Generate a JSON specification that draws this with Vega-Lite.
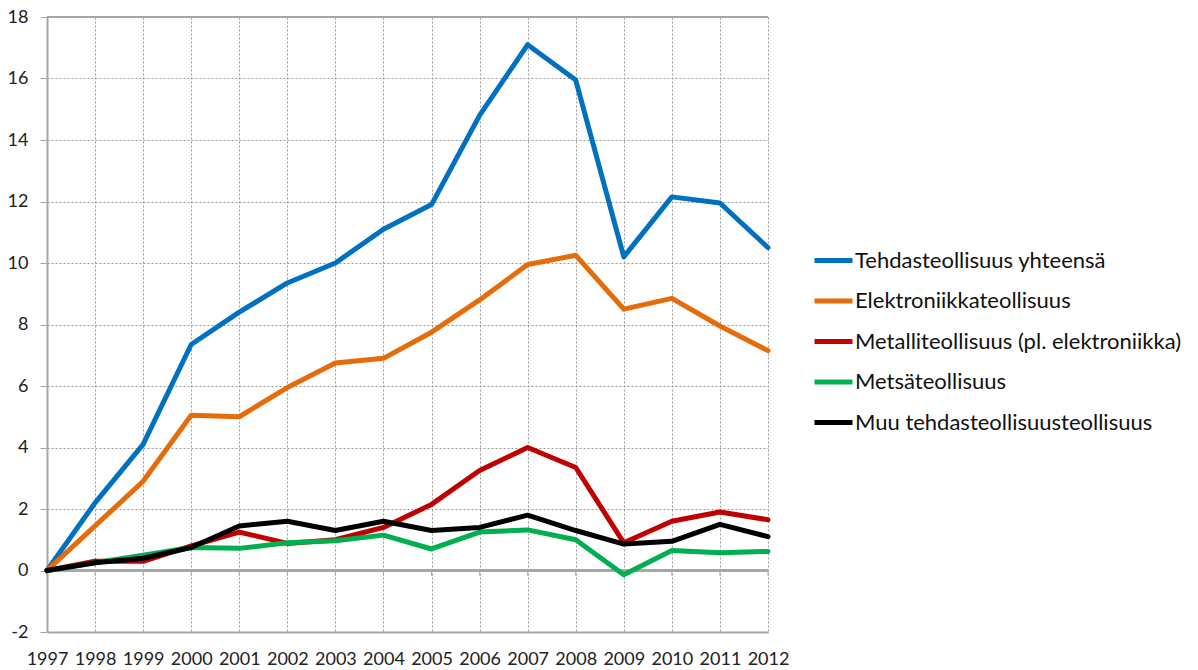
{
  "$schema": "https://vega.github.io/schema/vega-lite/v6.json",
  "width": 721,
  "height": 615,
  "autosize": "none",
  "padding": {"left": 47, "top": 17, "right": 430, "bottom": 38},
  "background": "white",
  "config": {
    "view": {"stroke": null},
    "font": "Lato",
    "axis": {"labelFont": "Lato", "labelColor": "#222", "labelFontSize": 18, "gridColor": "#9a9a9a", "gridDash": [2, 2], "gridWidth": 1, "domainColor": "#a6a6a6", "domainWidth": 2, "tickColor": "#a6a6a6"},
    "legend": {"labelFont": "Lato"}
  },
  "data": {"values": [
    {"year": 1997, "s": 1, "v": 0}, {"year": 1998, "s": 1, "v": 2.2}, {"year": 1999, "s": 1, "v": 4.1}, {"year": 2000, "s": 1, "v": 7.35},
    {"year": 2001, "s": 1, "v": 8.4}, {"year": 2002, "s": 1, "v": 9.35}, {"year": 2003, "s": 1, "v": 10.0}, {"year": 2004, "s": 1, "v": 11.1},
    {"year": 2005, "s": 1, "v": 11.9}, {"year": 2006, "s": 1, "v": 14.8}, {"year": 2007, "s": 1, "v": 17.1}, {"year": 2008, "s": 1, "v": 15.95},
    {"year": 2009, "s": 1, "v": 10.2}, {"year": 2010, "s": 1, "v": 12.15}, {"year": 2011, "s": 1, "v": 11.95}, {"year": 2012, "s": 1, "v": 10.5},
    {"year": 1997, "s": 2, "v": 0}, {"year": 1998, "s": 2, "v": 1.45}, {"year": 1999, "s": 2, "v": 2.9}, {"year": 2000, "s": 2, "v": 5.05},
    {"year": 2001, "s": 2, "v": 5.0}, {"year": 2002, "s": 2, "v": 5.95}, {"year": 2003, "s": 2, "v": 6.75}, {"year": 2004, "s": 2, "v": 6.9},
    {"year": 2005, "s": 2, "v": 7.75}, {"year": 2006, "s": 2, "v": 8.8}, {"year": 2007, "s": 2, "v": 9.95}, {"year": 2008, "s": 2, "v": 10.25},
    {"year": 2009, "s": 2, "v": 8.5}, {"year": 2010, "s": 2, "v": 8.85}, {"year": 2011, "s": 2, "v": 7.95}, {"year": 2012, "s": 2, "v": 7.15},
    {"year": 1997, "s": 3, "v": 0}, {"year": 1998, "s": 3, "v": 0.3}, {"year": 1999, "s": 3, "v": 0.3}, {"year": 2000, "s": 3, "v": 0.8},
    {"year": 2001, "s": 3, "v": 1.25}, {"year": 2002, "s": 3, "v": 0.88}, {"year": 2003, "s": 3, "v": 1.0}, {"year": 2004, "s": 3, "v": 1.4},
    {"year": 2005, "s": 3, "v": 2.15}, {"year": 2006, "s": 3, "v": 3.25}, {"year": 2007, "s": 3, "v": 4.0}, {"year": 2008, "s": 3, "v": 3.35},
    {"year": 2009, "s": 3, "v": 0.9}, {"year": 2010, "s": 3, "v": 1.6}, {"year": 2011, "s": 3, "v": 1.9}, {"year": 2012, "s": 3, "v": 1.65},
    {"year": 1997, "s": 4, "v": 0}, {"year": 1998, "s": 4, "v": 0.25}, {"year": 1999, "s": 4, "v": 0.5}, {"year": 2000, "s": 4, "v": 0.75},
    {"year": 2001, "s": 4, "v": 0.72}, {"year": 2002, "s": 4, "v": 0.9}, {"year": 2003, "s": 4, "v": 0.97}, {"year": 2004, "s": 4, "v": 1.15},
    {"year": 2005, "s": 4, "v": 0.7}, {"year": 2006, "s": 4, "v": 1.25}, {"year": 2007, "s": 4, "v": 1.32}, {"year": 2008, "s": 4, "v": 1.0},
    {"year": 2009, "s": 4, "v": -0.14}, {"year": 2010, "s": 4, "v": 0.65}, {"year": 2011, "s": 4, "v": 0.58}, {"year": 2012, "s": 4, "v": 0.62},
    {"year": 1997, "s": 5, "v": 0}, {"year": 1998, "s": 5, "v": 0.25}, {"year": 1999, "s": 5, "v": 0.4}, {"year": 2000, "s": 5, "v": 0.75},
    {"year": 2001, "s": 5, "v": 1.45}, {"year": 2002, "s": 5, "v": 1.6}, {"year": 2003, "s": 5, "v": 1.3}, {"year": 2004, "s": 5, "v": 1.6},
    {"year": 2005, "s": 5, "v": 1.3}, {"year": 2006, "s": 5, "v": 1.4}, {"year": 2007, "s": 5, "v": 1.8}, {"year": 2008, "s": 5, "v": 1.3},
    {"year": 2009, "s": 5, "v": 0.86}, {"year": 2010, "s": 5, "v": 0.95}, {"year": 2011, "s": 5, "v": 1.5}, {"year": 2012, "s": 5, "v": 1.1}
  ]},
  "layer": [
    {
      "mark": {"type": "rule", "color": "#a6a6a6", "strokeWidth": 1.5},
      "encoding": {"y": {"datum": 0}}
    },
    {
      "mark": {"type": "rule", "color": "#a6a6a6", "strokeWidth": 1.5},
      "encoding": {"y": {"datum": 18}}
    },
    {
      "transform": [{"filter": "datum.s == 1"}],
      "mark": {"type": "rule", "color": "#a6a6a6", "strokeWidth": 1},
      "encoding": {
        "x": {"field": "year", "type": "ordinal", "scale": {"type": "point", "padding": 0}},
        "y": {"datum": 0}, "y2": {"datum": -0.17}
      }
    },
    {
      "mark": {"type": "line", "strokeWidth": 5, "strokeJoin": "round", "strokeCap": "round"},
      "encoding": {
        "x": {
          "field": "year", "type": "ordinal",
          "scale": {"type": "point", "padding": 0},
          "axis": {"title": null, "labelAngle": 0, "labelAlign": "center", "labelBaseline": "top", "ticks": false, "labelPadding": 18, "labelOverlap": false, "grid": true, "domain": true}
        },
        "y": {
          "field": "v", "type": "quantitative",
          "scale": {"domain": [-2, 18], "nice": false, "zero": false},
          "axis": {"title": null, "values": [-2, 0, 2, 4, 6, 8, 10, 12, 14, 16, 18], "labelExpr": "datum.value + ''", "tickSize": 7, "labelPadding": 12, "grid": true, "domain": true}
        },
        "color": {
          "field": "s", "type": "ordinal",
          "scale": {"domain": [1, 2, 3, 4, 5], "range": ["#0070C0", "#E46C0A", "#C00000", "#00B050", "#000000"]},
          "legend": {
            "title": null, "orient": "none", "legendX": 765, "legendY": 222,
            "labelExpr": "['', 'Tehdasteollisuus yhteensä', 'Elektroniikkateollisuus', 'Metalliteollisuus (pl. elektroniikka)', 'Metsäteollisuus', 'Muu tehdasteollisuusteollisuus'][datum.value]",
            "symbolType": "stroke", "symbolSize": 1444, "symbolStrokeWidth": 5,
            "labelFontSize": 22, "labelColor": "#111", "labelOffset": 0, "rowPadding": 7.5, "labelLimit": 500
          }
        }
      }
    }
  ]
}
